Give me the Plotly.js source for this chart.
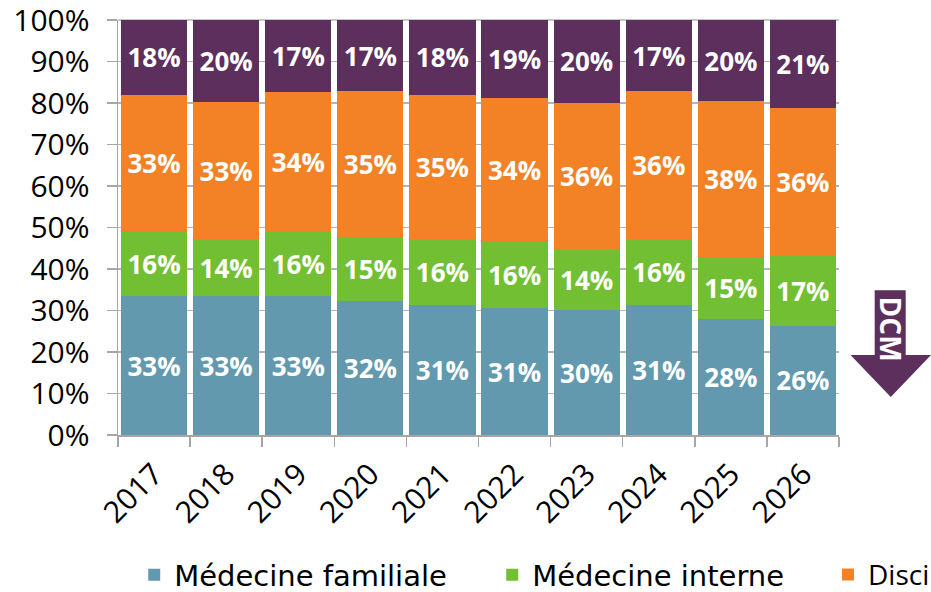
<!DOCTYPE html>
<html>
<head>
<meta charset="utf-8">
<script src="https://cdn.plot.ly/plotly-3.0.1.min.js"></script>
<style>html,body{margin:0;padding:0;background:#fff;}#chart{width:931px;height:592px;}</style>
</head>
<body>
<div id="chart"></div>
<script>
// Categories
const years = ['2017','2018','2019','2020','2021','2022','2023','2024','2025','2026'];
// Series values (percent of total)
const medecineFamiliale = [33.4, 33.4, 33.4, 32.4, 31.4, 30.6, 30.1, 31.4, 28.0, 26.3];
const medecineInterne   = [15.7, 13.8, 15.6, 15.2, 15.8, 16.1, 14.4, 15.8, 14.8, 16.8];
const disciplines       = [32.9, 33.0, 33.7, 35.2, 34.8, 34.4, 35.6, 35.6, 37.6, 35.7];
const autres            = [18.0, 19.8, 17.3, 17.2, 18.0, 18.9, 19.9, 17.2, 19.6, 21.2];
// Series names
const seriesNames = ['Médecine familiale', 'Médecine interne', 'Disciplines chirurgicales', 'Autres spécialités'];
// Y tick values and labels
const yTicks = [0,10,20,30,40,50,60,70,80,90,100];
const yTickLabels = ['0%','10%','20%','30%','40%','50%','60%','70%','80%','90%','100%'];

const colors = ['#6299ae', '#73bf33', '#f38226', '#5c2f5d'];
const labelFont = {family: 'Open Sans', size: 26, color: '#ffffff', weight: 'bold'};

function barTrace(vals, i, legendId, show) {
  return {
    type: 'bar', x: years, y: vals, name: seriesNames[i],
    marker: {color: colors[i], line: {width: 0}},
    texttemplate: '%{y:.0f}%', textposition: 'inside', insidetextanchor: 'middle',
    textangle: 0, constraintext: 'none', insidetextfont: labelFont,
    legend: legendId, showlegend: show, hoverinfo: 'x+y+name'
  };
}

const data = [
  barTrace(medecineFamiliale, 0, 'legend', true),
  barTrace(medecineInterne, 1, 'legend', true),
  barTrace(disciplines, 2, 'legend2', true),
  barTrace(autres, 3, 'legend', false)
];

const tickFont = {family: 'Open Sans', size: 30, color: '#000000'};
const legendFont = {family: 'DejaVu Sans', size: 29, color: '#000000'};

const layout = {
  width: 931, height: 592,
  margin: {l: 118, r: 92, t: 20, b: 157, autoexpand: false},
  paper_bgcolor: '#ffffff', plot_bgcolor: '#ffffff',
  barmode: 'stack', bargap: 0.083,
  showlegend: true,
  xaxis: {
    type: 'category', tickson: 'boundaries', ticks: 'outside', ticklen: 10,
    tickcolor: '#a6a6a6', tickwidth: 1.5, showline: true, linecolor: '#a6a6a6', linewidth: 1.5,
    tickangle: -45, tickfont: tickFont, showgrid: false, fixedrange: true,
    ticklabelstandoff: 8
  },
  yaxis: {
    range: [0, 100], tickmode: 'array', tickvals: yTicks, ticktext: yTickLabels,
    ticks: 'outside', ticklen: 10,
    tickcolor: '#a6a6a6', tickwidth: 1.5, showline: true, linecolor: '#a6a6a6', linewidth: 1.5,
    showgrid: true, gridcolor: '#b5b5b5', gridwidth: 1.5, zeroline: false,
    tickfont: tickFont, ticklabelstandoff: 11, ticklabeloverflow: 'allow', fixedrange: true
  },
  legend: {
    orientation: 'h', x: 0.0225, xanchor: 'left', y: -0.337, yanchor: 'middle',
    font: legendFont, entrywidth: 313, entrywidthmode: 'pixels', bgcolor: 'rgba(0,0,0,0)', traceorder: 'normal'
  },
  legend2: {
    orientation: 'h', x: 0.9848, xanchor: 'left', y: -0.337, yanchor: 'middle',
    font: {family: 'Open Sans', size: 28, color: '#000000'}, bgcolor: 'rgba(0,0,0,0)'
  },
  shapes: [{
    type: 'line', xref: 'paper', yref: 'paper', x0: 0, x1: 1, y0: 1, y1: 1,
    layer: 'below', line: {color: '#b5b5b5', width: 1.5}
  }, {
    type: 'path', xref: 'paper', yref: 'paper', layer: 'above',
    path: 'M 1.0495 0.349 L 1.0925 0.349 L 1.0925 0.193 L 1.1276 0.193 L 1.0718 0.0916 L 1.0160 0.193 L 1.0495 0.193 Z',
    fillcolor: '#5c2f5d', line: {width: 0}
  }],
  annotations: [{
    xref: 'paper', yref: 'paper', x: 1.0715, y: 0.255, text: 'DCM', showarrow: false,
    textangle: 90, font: {family: 'Open Sans', size: 28, color: '#ffffff', weight: 'bold'},
    xanchor: 'center', yanchor: 'middle'
  }]
};

Plotly.newPlot('chart', data, layout, {displayModeBar: false, staticPlot: true});
</script>
</body>
</html>
